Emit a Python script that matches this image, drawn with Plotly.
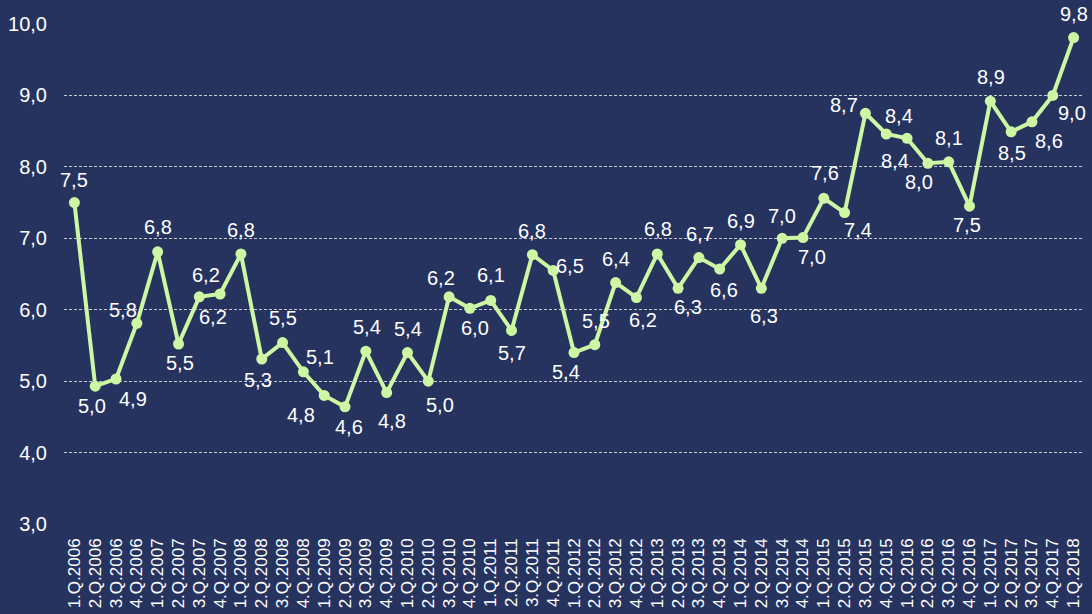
import plotly.graph_objects as go

quarters = [f"{q}.Q.{y}" for y in range(2006, 2019) for q in (1, 2, 3, 4)][:49]

values = [7.50, 4.93, 5.03, 5.81, 6.81, 5.52, 6.18, 6.22, 6.78, 5.31,
          5.54, 5.13, 4.80, 4.64, 5.42, 4.84, 5.40, 5.00, 6.18, 6.02,
          6.13, 5.71, 6.77, 6.55, 5.40, 5.51, 6.38, 6.17, 6.78, 6.30,
          6.73, 6.57, 6.91, 6.30, 7.00, 7.01, 7.56, 7.36, 8.75, 8.46,
          8.40, 8.05, 8.07, 7.45, 8.92, 8.49, 8.63, 9.00, 9.81]

labels = ["7,5", "5,0", "4,9", "5,8", "6,8", "5,5", "6,2", "6,2", "6,8", "5,3",
          "5,5", "5,1", "4,8", "4,6", "5,4", "4,8", "5,4", "5,0", "6,2", "6,0",
          "6,1", "5,7", "6,8", "6,5", "5,4", "5,5", "6,4", "6,2", "6,8", "6,3",
          "6,7", "6,6", "6,9", "6,3", "7,0", "7,0", "7,6", "7,4", "8,7", "8,4",
          "8,4", "8,0", "8,1", "7,5", "8,9", "8,5", "8,6", "9,0", "9,8"]

# label placement offsets in screen pixels (dx right, dy down) relative to each point
label_dx = [0, -3, 17, -14, 0, 2, 7, -7, 0, -4,
            0, 17, -23, 4, 1, 5, 1, 12, -8, 5,
            0, 0, 0, 17, -8, 1, 0, 7, 1, 10,
            1, 4, 0, 3, 0, 9, 1, 13, -21, 13,
            -12, -9, 0, -3, 1, 1, 17, 19, 0]
label_dy = [-23, 20, 20, -13, -25, 19, -22, 23, -24, 21,
            -25, -15, 20, 20, -24, 28, -24, 24, -19, 20,
            -25, 23, -24, -4, 19, -24, -24, 22, -25, 19,
            -24, 21, -24, 28, -22, 19, -25, 17, -8, -18,
            23, 19, -24, 19, -24, 21, 19, 18, -24]

y_ticks = [3, 4, 5, 6, 7, 8, 9, 10]
y_tick_text = ["3,0", "4,0", "5,0", "6,0", "7,0", "8,0", "9,0", "10,0"]

BG = "#26335f"
LINE = "#cdf7a3"
FONT = "Liberation Sans, Arial, sans-serif"

fig = go.Figure()
fig.add_trace(go.Scatter(
    x=quarters, y=values, mode="lines+markers",
    line=dict(color=LINE, width=4),
    marker=dict(color=LINE, size=11),
    cliponaxis=False, hoverinfo="skip",
))

for q, v, t, dx, dy in zip(quarters, values, labels, label_dx, label_dy):
    fig.add_annotation(
        x=q, y=v, text=t, showarrow=False,
        xshift=dx, yshift=-dy, xanchor="center", yanchor="middle",
        font=dict(family=FONT, size=20, color="#ffffff"),
    )

fig.update_layout(
    width=1092, height=614,
    paper_bgcolor=BG, plot_bgcolor=BG,
    margin=dict(l=64, r=8, t=24, b=90, autoexpand=False),
    showlegend=False,
    font=dict(family=FONT, color="#ffffff"),
)
fig.update_xaxes(
    type="category", tickangle=-90, showgrid=False, zeroline=False, showline=False,
    tickmode="array", tickvals=quarters, ticktext=quarters,
    tickfont=dict(family=FONT, size=17, color="#ffffff"), ticks="", ticklen=0,
    range=[-0.5, 48.5], automargin=False, ticklabelstandoff=10,
)
fig.update_yaxes(
    range=[3, 10], tickvals=y_ticks, ticktext=y_tick_text,
    showgrid=True, gridcolor="#c8cad4", gridwidth=1, griddash="3px,2px",
    zeroline=False, showline=False, ticks="", automargin=False,
    tickfont=dict(family=FONT, size=20, color="#ffffff"), ticklabelstandoff=16,
)

fig.write_html(
    "out.html",
    config={"displayModeBar": False},
    post_script="document.body.style.margin='0';document.body.style.background='" + BG + "';",
)
